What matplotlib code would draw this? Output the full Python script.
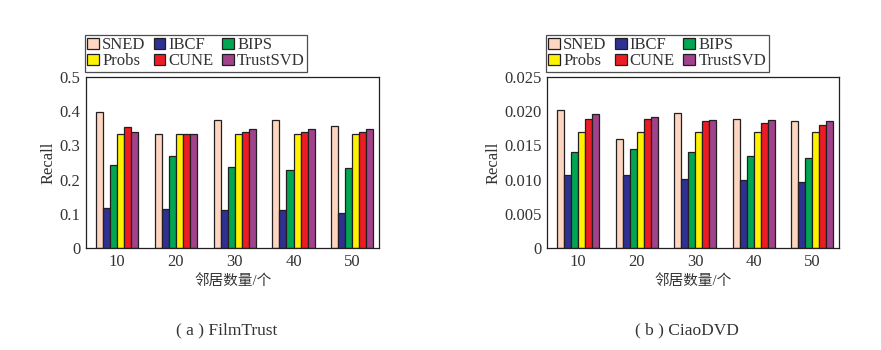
import matplotlib

matplotlib.use("Agg")
import matplotlib.pyplot as plt
import numpy as np

plt.rcParams["font.family"] = ["Liberation Serif", "Noto Sans CJK SC"]

neighbors = ["10", "20", "30", "40", "50"]
methods = ["SNED", "IBCF", "BIPS", "Probs", "CUNE", "TrustSVD"]
colors = ["#FDD5C0", "#2E3192", "#00A651", "#FFF200", "#ED1C24", "#A0428C"]

filmtrust = {
    "SNED": [0.397, 0.332, 0.373, 0.373, 0.356],
    "IBCF": [0.116, 0.113, 0.110, 0.110, 0.102],
    "BIPS": [0.242, 0.268, 0.236, 0.227, 0.233],
    "Probs": [0.332, 0.332, 0.332, 0.332, 0.332],
    "CUNE": [0.353, 0.332, 0.340, 0.340, 0.340],
    "TrustSVD": [0.338, 0.332, 0.347, 0.347, 0.347],
}
ciaodvd = {
    "SNED": [0.0202, 0.0160, 0.0198, 0.0189, 0.0186],
    "IBCF": [0.0107, 0.0107, 0.0101, 0.0100, 0.0097],
    "BIPS": [0.0141, 0.0145, 0.0141, 0.0135, 0.0132],
    "Probs": [0.0170, 0.0170, 0.0170, 0.0170, 0.0170],
    "CUNE": [0.0189, 0.0189, 0.0186, 0.0183, 0.0180],
    "TrustSVD": [0.0196, 0.0192, 0.0187, 0.0187, 0.0186],
}

ft_ticks = [0, 0.1, 0.2, 0.3, 0.4, 0.5]
ft_ticklabels = ["0", "0.1", "0.2", "0.3", "0.4", "0.5"]
cd_ticks = [0, 0.005, 0.010, 0.015, 0.020, 0.025]
cd_ticklabels = ["0", "0.005", "0.010", "0.015", "0.020", "0.025"]

fig = plt.figure(figsize=(8.81, 3.5), dpi=100)
ax1 = fig.add_axes([0.0976, 0.2914, 0.3330, 0.4886])
ax2 = fig.add_axes([0.6210, 0.2914, 0.3314, 0.4886])

x = np.arange(len(neighbors))
w = 0.12


def draw(ax, data, ticks, ticklabels, caption):
    for i, m in enumerate(methods):
        ax.bar(x + (i - 2.5) * w, data[m], width=w, color=colors[i],
               edgecolor="#231F20", linewidth=0.9, label=m)
    ax.set_xlim(-0.53, 4.46)
    ax.set_ylim(ticks[0], ticks[-1])
    ax.set_yticks(ticks)
    ax.set_yticklabels(ticklabels)
    ax.set_xticks(x)
    ax.set_xticklabels(neighbors)
    ax.tick_params(length=0, labelsize=12, colors="#333333", pad=4)
    ax.set_ylabel("Recall", fontsize=12, color="#333333", labelpad=2)
    ax.set_xlabel("邻居数量/个", fontsize=10.5, color="#333333", labelpad=3)
    for s in ax.spines.values():
        s.set_linewidth(0.9)
        s.set_color("#231F20")
    h, l = ax.get_legend_handles_labels()
    order = [0, 3, 1, 4, 2, 5]
    leg = ax.legend([h[k] for k in order], [l[k] for k in order], ncol=3,
                    loc="lower left", bbox_to_anchor=(-0.005, 1.03),
                    borderaxespad=0, fontsize=12, handlelength=0.7,
                    handleheight=0.7, handletextpad=0.2, columnspacing=0.5,
                    labelspacing=0.0, borderpad=0.15, fancybox=False,
                    frameon=True)
    leg.get_frame().set_edgecolor("#231F20")
    leg.get_frame().set_linewidth(0.9)
    for t in leg.get_texts():
        t.set_color("#333333")
    ax.text(0.48, -0.48, caption, transform=ax.transAxes, ha="center",
            va="center", fontsize=12.5, color="#333333")


draw(ax1, filmtrust, ft_ticks, ft_ticklabels, "( a ) FilmTrust")
draw(ax2, ciaodvd, cd_ticks, cd_ticklabels, "( b ) CiaoDVD")

fig.savefig("out.png", dpi=100)
